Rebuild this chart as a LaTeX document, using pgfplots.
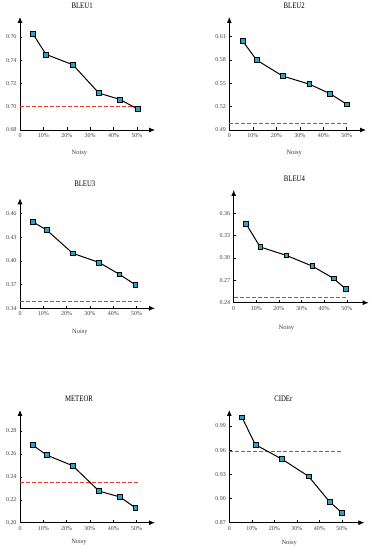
\documentclass[border=0pt]{standalone}
\usepackage{fontspec}
\setmainfont{Liberation Serif}
\newfontfamily\condfont[FakeStretch=0.8]{Liberation Serif}
\usepackage{pgfplots}
\pgfplotsset{compat=1.18}
\usetikzlibrary{arrows.meta}
\definecolor{markc}{HTML}{2EA3C9}
\definecolor{redc}{HTML}{E5392F}
\pgfplotsset{
  panel/.style={
    scale only axis, anchor=south west, clip=false,
    axis lines=left,
    axis line style={-{Latex[length=6bp,width=5bp]}, line width=0.8pt},
    xmin=0,
    xtick={0,10,20,30,40,50},
    xticklabels={0,10\%,20\%,30\%,40\%,50\%},
    major tick length=2.5bp,
    tick style={black, line width=0.5pt},
    tick align=inside,
    ticklabel style={font=\fontsize{6}{7}\selectfont, text=black!75},
    /pgf/number format/assume math mode=true,
    y tick label style={/pgf/number format/.cd, fixed, fixed zerofill, precision=2},
    xlabel={Noisy},
    xlabel style={font=\fontsize{6.5}{7}\selectfont, text=black!75},
    title style={font=\condfont\fontsize{8.5}{9}\selectfont},
  },
  dataline/.style={black, line width=1pt, mark=square*,
    mark options={fill=markc, draw=black, line width=0.5pt, solid}, mark size=2.4bp},
  refline/.style={draw=redc, color=redc, line width=0.9pt, dash pattern=on 4bp off 2bp},
}
\begin{document}
\begin{tikzpicture}
\useasboundingbox (0,0) rectangle (373bp,550bp);
% BLEU1
\begin{axis}[panel, at={(20bp,420bp)}, width=135bp, height=113bp,
  xmax=57.7, ymin=0.68, ymax=0.777, ytick={0.68,0.70,0.72,0.74,0.76},
  title={BLEU1}, title style={at={(0.46,1)}, anchor=base, yshift=2.5bp},
  xlabel style={at={(0.44,0)}, anchor=base, yshift=-24.5bp}]
\addplot[refline] coordinates {(0,0.700)(50.5,0.700)};
\addplot[dataline] coordinates {(5.4,0.7629)(11.1,0.7449)(22.6,0.736)(33.7,0.7117)(42.6,0.7063)(50.3,0.698)};
\end{axis}
% BLEU2
\begin{axis}[panel, at={(229.3bp,420bp)}, width=136.7bp, height=113bp,
  xmax=58.2, ymin=0.49, ymax=0.6353, ytick={0.49,0.52,0.55,0.58,0.61},
  title={BLEU2}, title style={at={(0.475,1)}, anchor=base, yshift=2.5bp},
  xlabel style={at={(0.475,0)}, anchor=base, yshift=-25bp}]
\addplot[refline] coordinates {(0,0.4986)(50.5,0.4986)};
\addplot[dataline] coordinates {(5.7,0.6044)(11.6,0.580)(22.7,0.5594)(34,0.549)(42.9,0.5367)(50,0.523)};
\end{axis}
% BLEU3
\begin{axis}[panel, at={(20bp,241.7bp)}, width=135bp, height=110bp,
  xmax=57.9, ymin=0.34, ymax=0.479, ytick={0.34,0.37,0.40,0.43,0.46},
  title={BLEU3}, title style={at={(0.48,1)}, anchor=base, yshift=5.5bp},
  xlabel style={at={(0.444,0)}, anchor=base, yshift=-25bp}]
\addplot[refline] coordinates {(0,0.3484)(51.5,0.3484)};
\addplot[dataline] coordinates {(5.3,0.4495)(11.4,0.439)(22.6,0.4095)(33.9,0.3979)(42.6,0.383)(49.4,0.3699)};
\end{axis}
% BLEU4
\begin{axis}[panel, at={(233.7bp,247.3bp)}, width=135bp, height=112.7bp,
  xmax=59.7, ymin=0.24, ymax=0.3913, ytick={0.24,0.27,0.30,0.33,0.36},
  title={BLEU4}, title style={at={(0.45,1)}, anchor=base, yshift=2.5bp},
  xlabel style={at={(0.39,0)}, anchor=base, yshift=-27bp}]
\addplot[refline] coordinates {(0,0.2476)(50,0.2476)};
\addplot[dataline] coordinates {(5.5,0.3457)(11.7,0.3148)(23.2,0.3036)(34.7,0.2892)(44.1,0.2727)(49.4,0.2588)};
\end{axis}
% METEOR
\begin{axis}[panel, at={(20bp,27.3bp)}, width=135bp, height=112.7bp,
  xmax=57.9, ymin=0.20, ymax=0.2983, ytick={0.20,0.22,0.24,0.26,0.28},
  title={METEOR}, title style={at={(0.437,1)}, anchor=base, yshift=2.5bp},
  xlabel style={at={(0.437,0)}, anchor=base, yshift=-20.5bp}]
\addplot[refline] coordinates {(0,0.2349)(50.5,0.2349)};
\addplot[dataline] coordinates {(5.4,0.2678)(11.4,0.259)(22.6,0.2497)(33.9,0.2276)(42.9,0.2224)(49.4,0.2131)};
\end{axis}
% CIDEr
\begin{axis}[panel, at={(229.3bp,27.3bp)}, width=135bp, height=112.7bp,
  xmax=60, ymin=0.87, ymax=1.0098, ytick={0.87,0.90,0.93,0.96,0.99},
  title={CIDEr}, title style={at={(0.40,1)}, anchor=base, yshift=2.5bp},
  xlabel style={at={(0.444,0)}, anchor=base, yshift=-22bp}]
\addplot[refline] coordinates {(0,0.9581)(50.5,0.9581)};
\addplot[dataline] coordinates {(5.6,1.0008)(11.6,0.9668)(23.3,0.949)(35.2,0.9276)(44.5,0.8962)(49.9,0.8828)};
\end{axis}
\end{tikzpicture}
\end{document}
